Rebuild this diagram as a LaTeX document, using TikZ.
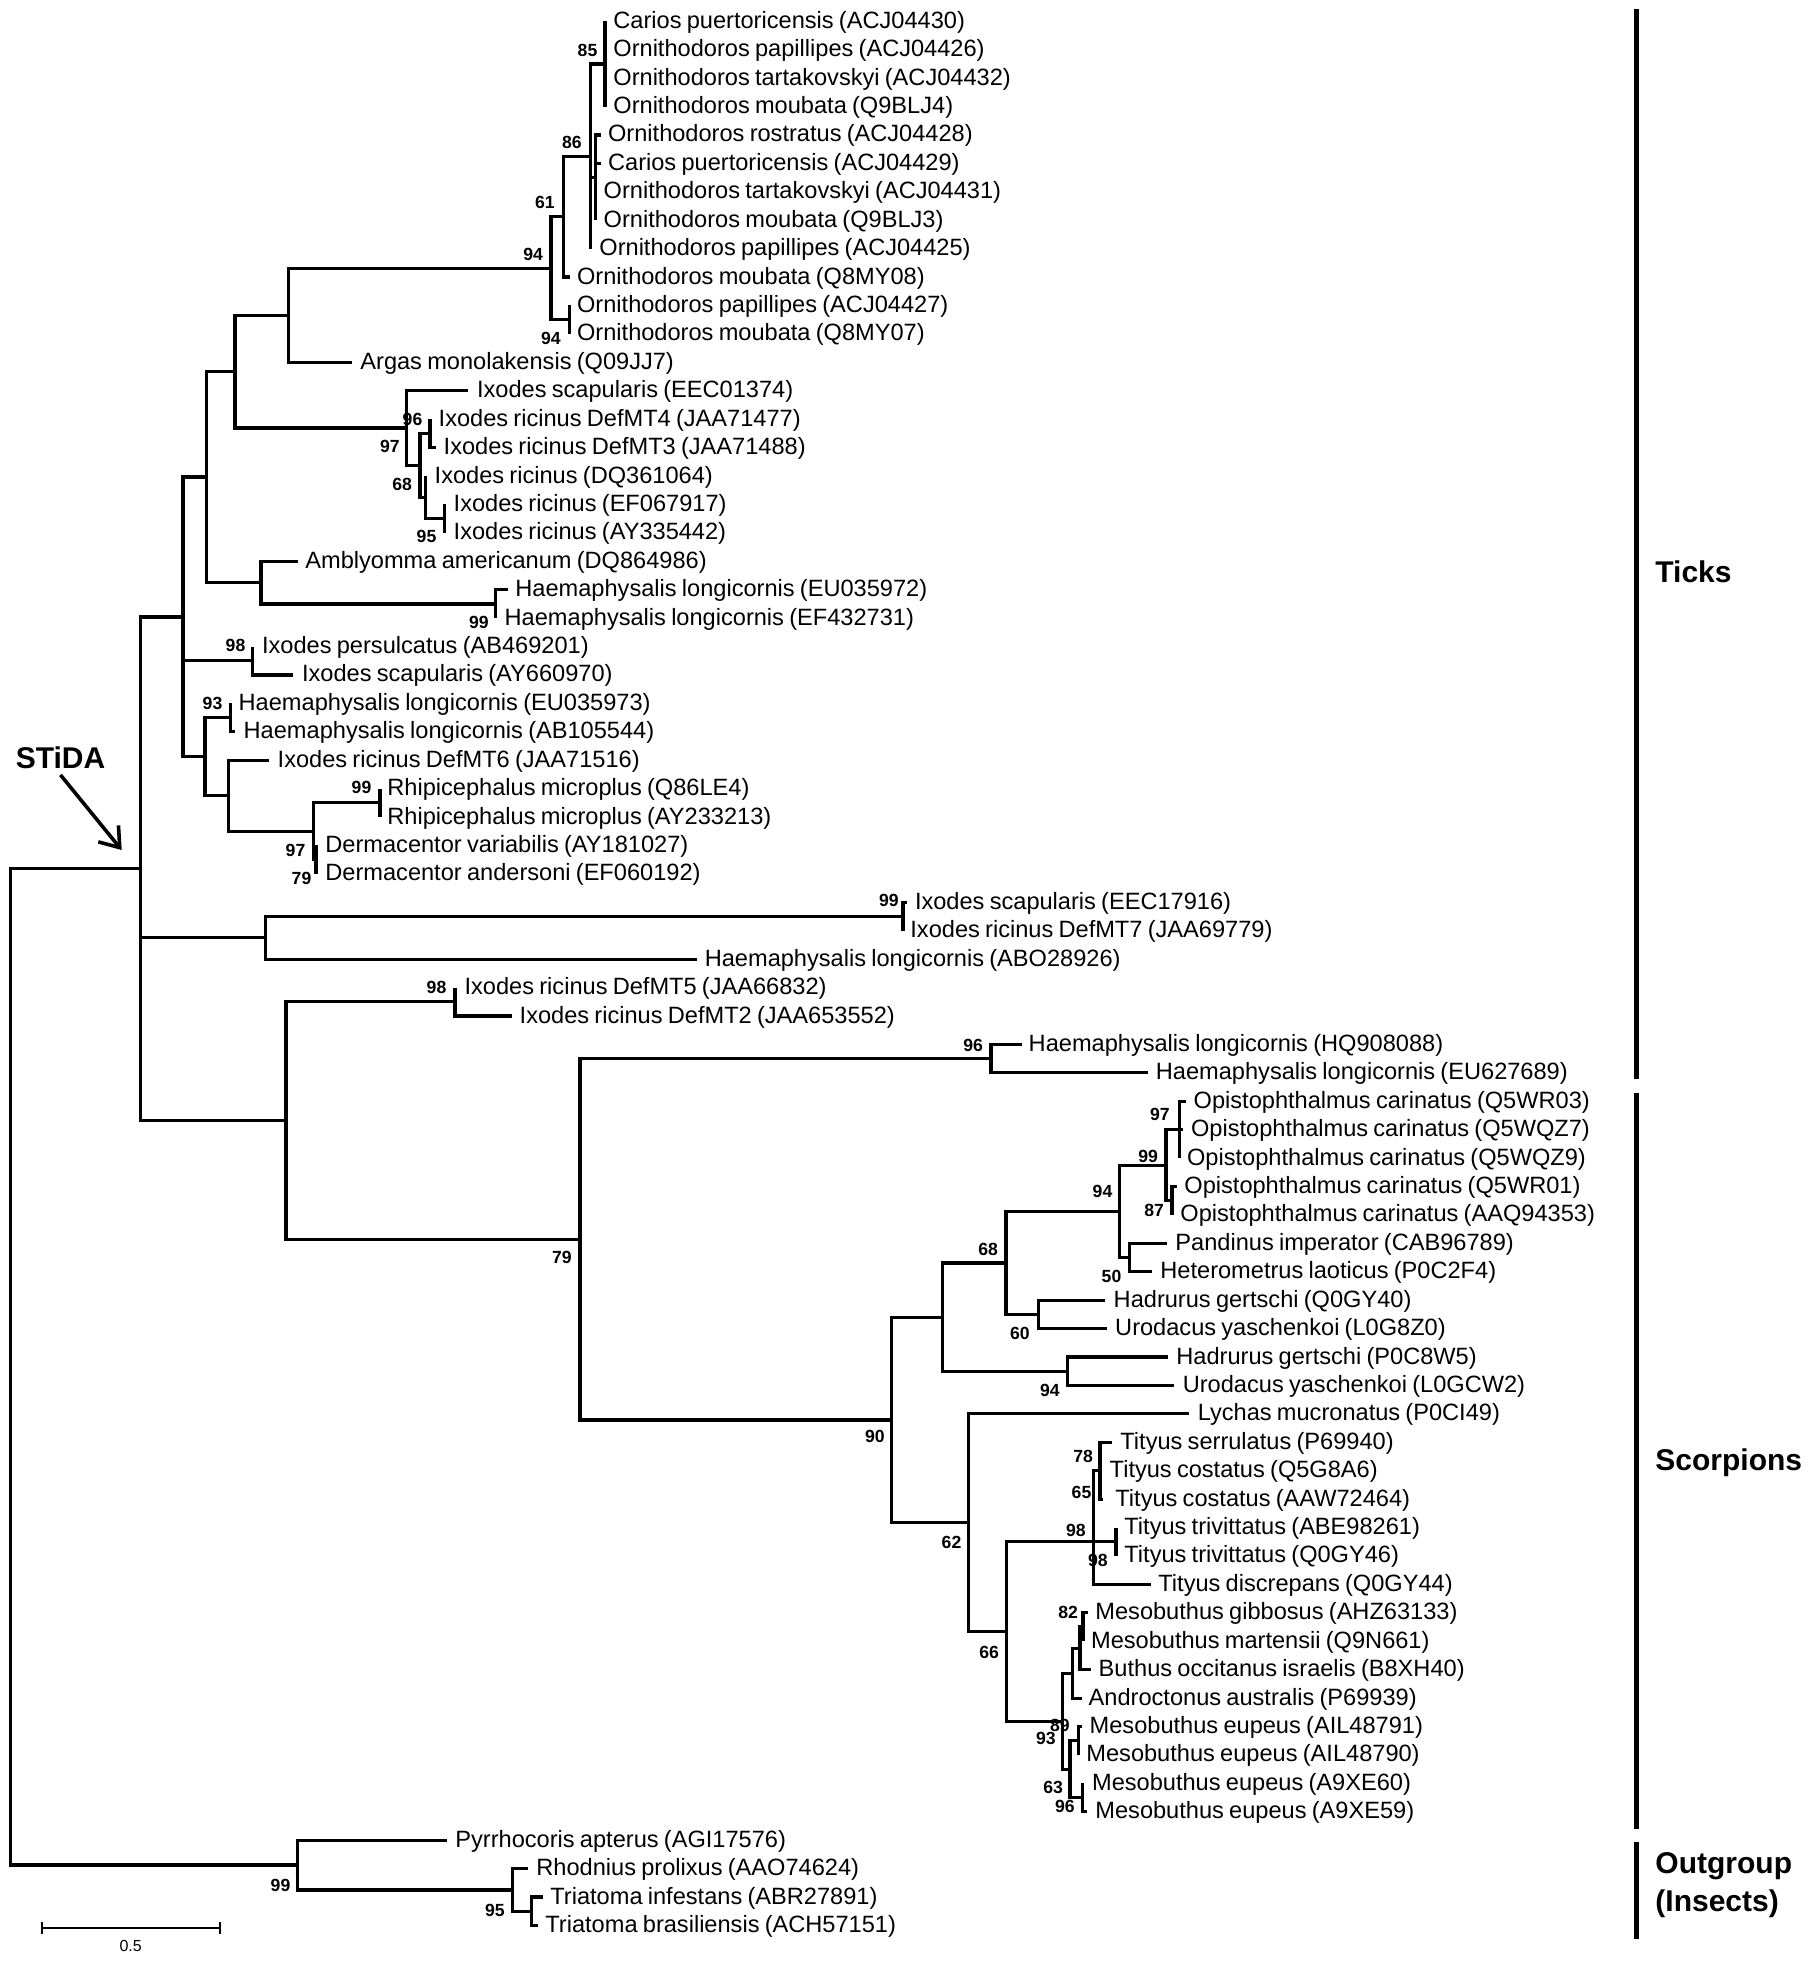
\documentclass[tikz,border=0pt]{standalone}
\usepackage{fontspec}
\setmainfont{Liberation Sans}[WordSpace=0.8]
\usetikzlibrary{arrows.meta}
\newcommand\leafat[4]{\coordinate (l#1) at (#2,{21.3+28.42*(#1-1)});
  \node[taxon] (t#1) at (#3,{28.3+28.42*(#1-1)}) {#4};}

\begin{document}
\begin{tikzpicture}[x = .5pt, y = -.5pt,
  branch/.style = {line width = 1.6pt},
  taxon/.style = {anchor = base west, inner sep = 0pt, font = \fontsize{11.8}{13}\selectfont},
  boot/.style = {anchor = east, inner sep = 0pt, font = \bfseries\fontsize{8.8}{10}\selectfont},
  group/.style = {inner sep = 0pt, align = left, font = \bfseries\fontsize{15}{19}\selectfont},
  bar/.style = {line width = 2.5pt}]
\path[fill = white, use as bounding box] (0,0) rectangle (1813,1962);

\leafat{1}{605}{613}{Carios puertoricensis (ACJ04430)}
\leafat{2}{605}{613}{Ornithodoros papillipes (ACJ04426)}
\leafat{3}{605}{613}{Ornithodoros tartakovskyi (ACJ04432)}
\leafat{4}{605}{613}{Ornithodoros moubata (Q9BLJ4)}
\leafat{5}{601}{607.7}{Ornithodoros rostratus (ACJ04428)}
\leafat{6}{601}{607.7}{Carios puertoricensis (ACJ04429)}
\leafat{7}{595.7}{603.3}{Ornithodoros tartakovskyi (ACJ04431)}
\leafat{8}{595.7}{603.3}{Ornithodoros moubata (Q9BLJ3)}
\leafat{9}{590.7}{599}{Ornithodoros papillipes (ACJ04425)}
\leafat{10}{570}{576.7}{Ornithodoros moubata (Q8MY08)}
\leafat{11}{569.3}{576.7}{Ornithodoros papillipes (ACJ04427)}
\leafat{12}{569.3}{576.7}{Ornithodoros moubata (Q8MY07)}
\leafat{13}{351.7}{360}{Argas monolakensis (Q09JJ7)}
\leafat{14}{468.3}{476.7}{Ixodes scapularis (EEC01374)}
\leafat{15}{430}{438.3}{Ixodes ricinus DefMT4 (JAA71477)}
\leafat{16}{435.7}{443.3}{Ixodes ricinus DefMT3 (JAA71488)}
\leafat{17}{425.7}{434.3}{Ixodes ricinus (DQ361064)}
\leafat{18}{444.3}{453.3}{Ixodes ricinus (EF067917)}
\leafat{19}{444.3}{453.3}{Ixodes ricinus (AY335442)}
\leafat{20}{298.3}{305}{Amblyomma americanum (DQ864986)}
\leafat{21}{508.3}{515}{Haemaphysalis longicornis (EU035972)}
\leafat{22}{495.7}{504.3}{Haemaphysalis longicornis (EF432731)}
\leafat{23}{252.7}{261.7}{Ixodes persulcatus (AB469201)}
\leafat{24}{293.3}{301.7}{Ixodes scapularis (AY660970)}
\leafat{25}{230.5}{238.3}{Haemaphysalis longicornis (EU035973)}
\leafat{26}{235}{243.3}{Haemaphysalis longicornis (AB105544)}
\leafat{27}{269.3}{277.3}{Ixodes ricinus DefMT6 (JAA71516)}
\leafat{28}{380}{387}{Rhipicephalus microplus (Q86LE4)}
\leafat{29}{380}{387}{Rhipicephalus microplus (AY233213)}
\leafat{30}{316}{325}{Dermacentor variabilis (AY181027)}
\leafat{31}{316}{325}{Dermacentor andersoni (EF060192)}
\leafat{32}{907}{914.6}{Ixodes scapularis (EEC17916)}
\leafat{33}{903}{910}{Ixodes ricinus DefMT7 (JAA69779)}
\leafat{34}{697}{704.4}{Haemaphysalis longicornis (ABO28926)}
\leafat{35}{455}{464.2}{Ixodes ricinus DefMT5 (JAA66832)}
\leafat{36}{511.7}{519.3}{Ixodes ricinus DefMT2 (JAA653552)}
\leafat{37}{1021.7}{1028.3}{Haemaphysalis longicornis (HQ908088)}
\leafat{38}{1148.3}{1155.5}{Haemaphysalis longicornis (EU627689)}
\leafat{39}{1186}{1193.3}{Opistophthalmus carinatus (Q5WR03)}
\leafat{40}{1183}{1190.7}{Opistophthalmus carinatus (Q5WQZ7)}
\leafat{41}{1179.3}{1186.7}{Opistophthalmus carinatus (Q5WQZ9)}
\leafat{42}{1176.7}{1184}{Opistophthalmus carinatus (Q5WR01)}
\leafat{43}{1172}{1180}{Opistophthalmus carinatus (AAQ94353)}
\leafat{44}{1167.3}{1175}{Pandinus imperator (CAB96789)}
\leafat{45}{1152}{1160}{Heterometrus laoticus (P0C2F4)}
\leafat{46}{1105}{1113.3}{Hadrurus gertschi (Q0GY40)}
\leafat{47}{1107}{1114.8}{Urodacus yaschenkoi (L0G8Z0)}
\leafat{48}{1168}{1176}{Hadrurus gertschi (P0C8W5)}
\leafat{49}{1174}{1182.4}{Urodacus yaschenkoi (L0GCW2)}
\leafat{50}{1189}{1197.4}{Lychas mucronatus (P0CI49)}
\leafat{51}{1111.7}{1120}{Tityus serrulatus (P69940)}
\leafat{52}{1100}{1109.3}{Tityus costatus (Q5G8A6)}
\leafat{53}{1103.3}{1115}{Tityus costatus (AAW72464)}
\leafat{54}{1116}{1124}{Tityus trivittatus (ABE98261)}
\leafat{55}{1116}{1124}{Tityus trivittatus (Q0GY46)}
\leafat{56}{1150.7}{1158}{Tityus discrepans (Q0GY44)}
\leafat{57}{1088.3}{1095}{Mesobuthus gibbosus (AHZ63133)}
\leafat{58}{1083}{1090.7}{Mesobuthus martensii (Q9N661)}
\leafat{59}{1090.7}{1098.3}{Buthus occitanus israelis (B8XH40)}
\leafat{60}{1081.7}{1088.3}{Androctonus australis (P69939)}
\leafat{61}{1081.7}{1089.3}{Mesobuthus eupeus (AIL48791)}
\leafat{62}{1078.3}{1086}{Mesobuthus eupeus (AIL48790)}
\leafat{63}{1082.7}{1091.7}{Mesobuthus eupeus (A9XE60)}
\leafat{64}{1086.7}{1095}{Mesobuthus eupeus (A9XE59)}
\leafat{65}{446.7}{455}{Pyrrhocoris apterus (AGI17576)}
\leafat{66}{528.3}{536}{Rhodnius prolixus (AAO74624)}
\leafat{67}{543.3}{550}{Triatoma infestans (ABR27891)}
\leafat{68}{538.3}{545}{Triatoma brasiliensis (ACH57151)}

\coordinate (n85) at (605,64);
\coordinate (nO5) at (595.7,177.6);
\coordinate (n86) at (590.7,156.3);
\coordinate (n61) at (563.3,216.7);
\coordinate (n94b) at (569.3,319.7);
\coordinate (n94) at (551,268.2);
\coordinate (nArg) at (288.3,315.3);
\coordinate (n96) at (430,433.4);
\coordinate (n95) at (444.3,518.6);
\coordinate (n17s) at (425.7,497.3);
\coordinate (n68) at (420,465.35);
\coordinate (n97i) at (406.7,428.1);
\coordinate (n235) at (235,371.7);
\coordinate (n99h) at (495.7,603.9);
\coordinate (nAmb) at (261,582.6);
\coordinate (n207) at (206.7,477.1);
\coordinate (n98p) at (252.7,660.7);
\coordinate (n93) at (230.5,717.5);
\coordinate (nRh) at (380,802.8);
\coordinate (nDe) at (316,859.7);
\coordinate (n313) at (313.3,831.3);
\coordinate (n228) at (228.3,795.7);
\coordinate (n205) at (205,756.6);
\coordinate (n183) at (183,616.9);
\coordinate (nD7) at (903,916.5);
\coordinate (n265) at (265.7,937.8);
\coordinate (n98d) at (455,1001.8);
\coordinate (nHQ) at (991,1058.6);
\coordinate (n97o) at (1179.3,1129.7);
\coordinate (n87) at (1172,1200.7);
\coordinate (n99o) at (1166,1165.2);
\coordinate (n50) at (1129.3,1257.6);
\coordinate (n94o) at (1119.3,1211.4);
\coordinate (n60) at (1038.3,1314.4);
\coordinate (n68s) at (1006,1262.9);
\coordinate (n94h) at (1067.3,1371.25);
\coordinate (n943) at (942.7,1317.1);
\coordinate (n78) at (1100,1470.7);
\coordinate (n98s) at (1116,1541.8);
\coordinate (n98T) at (1093.3,1541.8);
\coordinate (n82) at (1083,1627.05);
\coordinate (nX) at (1080,1648.4);
\coordinate (nUp) at (1072.7,1673.25);
\coordinate (n89) at (1078.3,1740.7);
\coordinate (n96m) at (1082.7,1797.5);
\coordinate (n63) at (1070,1769.1);
\coordinate (n93m) at (1062.7,1721.2);
\coordinate (n66) at (1006.7,1631.5);
\coordinate (n62) at (968.3,1522.7);
\coordinate (n90) at (891.7,1419.9);
\coordinate (n79) at (580,1239.25);
\coordinate (n286) at (286,1120.5);
\coordinate (nSTiDA) at (140.5,868.7);
\coordinate (nTri) at (531.7,1911.2);
\coordinate (n95i) at (512.3,1889.9);
\coordinate (n99i) at (297.7,1865.05);
\coordinate (root) at (10.7,1366.9);

\draw[branch] (n85) |- (l1) (n85) |- (l2) (n85) |- (l3) (n85) |- (l4);
\draw[branch] (nO5) |- (l5) (nO5) |- (l6) (nO5) |- (l7) (nO5) |- (l8);
\draw[branch] (n86) |- (n85) (n86) |- (nO5) (n86) |- (l9);
\draw[branch] (n61) |- (n86) (n61) |- (l10);
\draw[branch] (n94b) |- (l11) (n94b) |- (l12);
\draw[branch] (n94) |- (n61) (n94) |- (n94b);
\draw[branch] (nArg) |- (n94) (nArg) |- (l13);
\draw[branch] (n96) |- (l15) (n96) |- (l16);
\draw[branch] (n95) |- (l18) (n95) |- (l19);
\draw[branch] (n17s) |- (l17) (n17s) |- (n95);
\draw[branch] (n68) |- (n96) (n68) |- (n17s);
\draw[branch] (n97i) |- (l14) (n97i) |- (n68);
\draw[branch] (n235) |- (nArg) (n235) |- (n97i);
\draw[branch] (n99h) |- (l21) (n99h) |- (l22);
\draw[branch] (nAmb) |- (l20) (nAmb) |- (n99h);
\draw[branch] (n207) |- (n235) (n207) |- (nAmb);
\draw[branch] (n98p) |- (l23) (n98p) |- (l24);
\draw[branch] (n93) |- (l25) (n93) |- (l26);
\draw[branch] (nRh) |- (l28) (nRh) |- (l29);
\draw[branch] (nDe) |- (l30) (nDe) |- (l31);
\draw[branch] (n313) |- (nRh) (n313) |- (nDe);
\draw[branch] (n228) |- (l27) (n228) |- (n313);
\draw[branch] (n205) |- (n93) (n205) |- (n228);
\draw[branch] (n183) |- (n207) (n183) |- (n98p) (n183) |- (n205);
\draw[branch] (nD7) |- (l32) (nD7) |- (l33);
\draw[branch] (n265) |- (nD7) (n265) |- (l34);
\draw[branch] (n98d) |- (l35) (n98d) |- (l36);
\draw[branch] (nHQ) |- (l37) (nHQ) |- (l38);
\draw[branch] (n97o) |- (l39) (n97o) |- (l40) (n97o) |- (l41);
\draw[branch] (n87) |- (l42) (n87) |- (l43);
\draw[branch] (n99o) |- (n97o) (n99o) |- (n87);
\draw[branch] (n50) |- (l44) (n50) |- (l45);
\draw[branch] (n94o) |- (n99o) (n94o) |- (n50);
\draw[branch] (n60) |- (l46) (n60) |- (l47);
\draw[branch] (n68s) |- (n94o) (n68s) |- (n60);
\draw[branch] (n94h) |- (l48) (n94h) |- (l49);
\draw[branch] (n943) |- (n68s) (n943) |- (n94h);
\draw[branch] (n78) |- (l51) (n78) |- (l52) (n78) |- (l53);
\draw[branch] (n98s) |- (l54) (n98s) |- (l55);
\draw[branch] (n98T) |- (n78) (n98T) |- (n98s) (n98T) |- (l56);
\draw[branch] (n82) |- (l57) (n82) |- (l58);
\draw[branch] (nX) |- (n82) (nX) |- (l59);
\draw[branch] (nUp) |- (nX) (nUp) |- (l60);
\draw[branch] (n89) |- (l61) (n89) |- (l62);
\draw[branch] (n96m) |- (l63) (n96m) |- (l64);
\draw[branch] (n63) |- (n89) (n63) |- (n96m);
\draw[branch] (n93m) |- (nUp) (n93m) |- (n63);
\draw[branch] (n66) |- (n98T) (n66) |- (n93m);
\draw[branch] (n62) |- (l50) (n62) |- (n66);
\draw[branch] (n90) |- (n943) (n90) |- (n62);
\draw[branch] (n79) |- (nHQ) (n79) |- (n90);
\draw[branch] (n286) |- (n98d) (n286) |- (n79);
\draw[branch] (nSTiDA) |- (n183) (nSTiDA) |- (n265) (nSTiDA) |- (n286);
\draw[branch] (nTri) |- (l67) (nTri) |- (l68);
\draw[branch] (n95i) |- (l66) (n95i) |- (nTri);
\draw[branch] (n99i) |- (l65) (n99i) |- (n95i);
\draw[branch] (root) |- (nSTiDA) (root) |- (n99i);

\node[boot] (b85) at (597.7,50) {85};
\node[boot] (b86) at (582,142.7) {86};
\node[boot] (b61) at (555,202.3) {61};
\node[boot] (b94a) at (543.3,254) {94};
\node[boot] (b94b) at (561,338.3) {94};
\node[boot] (b96a) at (422.7,419) {96};
\node[boot] (b97a) at (400,446.5) {97};
\node[boot] (b68a) at (412.3,484.3) {68};
\node[boot] (b95a) at (436.7,536.9) {95};
\node[boot] (b99a) at (489,622.2) {99};
\node[boot] (b98a) at (245.7,645.9) {98};
\node[boot] (b93a) at (222.7,703) {93};
\node[boot] (b99b) at (371.7,787.5) {99};
\node[boot] (b97b) at (305.7,850.7) {97};
\node[boot] (b79a) at (311.7,878.3) {79};
\node[boot] (b99c) at (899,900) {99};
\node[boot] (b98b) at (446.7,987.3) {98};
\node[boot] (b96b) at (983.3,1045) {96};
\node[boot] (b79b) at (572,1257.5) {79};
\node[boot] (b68b) at (998.3,1249.3) {68};
\node[boot] (b60) at (1030,1333.3) {60};
\node[boot] (b94c) at (1060,1390) {94};
\node[boot] (b90) at (885,1436.7) {90};
\node[boot] (b94d) at (1112.7,1191) {94};
\node[boot] (b99d) at (1158.3,1156) {99};
\node[boot] (b97c) at (1170,1114.3) {97};
\node[boot] (b87) at (1164.3,1210.7) {87};
\node[boot] (b50) at (1121.7,1276.7) {50};
\node[boot] (b62) at (961.7,1542.7) {62};
\node[boot] (b66) at (999.3,1652.7) {66};
\node[boot] (b98c) at (1086,1530.7) {98};
\node[boot] (b98d) at (1108,1560.7) {98};
\node[boot] (b78) at (1093.3,1456.7) {78};
\node[boot] (b65) at (1091.7,1492.7) {65};
\node[boot] (b82) at (1078.3,1612.7) {82};
\node[boot] (b93b) at (1056,1738.3) {93};
\node[boot] (b89) at (1070,1725) {89};
\node[boot] (b63) at (1063.3,1787.3) {63};
\node[boot] (b96c) at (1075,1806.7) {96};
\node[boot] (b99e) at (290.7,1885) {99};
\node[boot] (b95b) at (505,1910.7) {95};

\node[group] (stida) at (60.5,757.5) {STiDA};
\coordinate (stidaTip) at (121.7,850);
\draw[line width = 1.8pt, -{Straight Barb[length = 9pt, width = 13pt]}] ([yshift = -3pt]stida.south) -- (stidaTip);

\coordinate (ticksTop) at (1636,9);
\coordinate (ticksBot) at (1636,1079);
\coordinate (scorpTop) at (1636,1093);
\coordinate (scorpBot) at (1636,1829);
\coordinate (outTop) at (1636,1842);
\coordinate (outBot) at (1636,1939);
\draw[bar] (ticksTop) -- (ticksBot);
\draw[bar] (scorpTop) -- (scorpBot);
\draw[bar] (outTop) -- (outBot);
\node[group, anchor = west] (ticks) at (1655,572) {Ticks};
\node[group, anchor = west] (scorp) at (1655,1463) {Scorpions};
\node[group, anchor = west] (outgrp) at (1655,1885) {Outgroup\\(Insects)};

\coordinate (sbL) at (41.7,1928.3);
\coordinate (sbR) at (220,1928.3);
\draw[line width = 1pt] (sbL) -- (sbR) ([yshift = 3pt]sbL) -- ([yshift = -3pt]sbL) ([yshift = 3pt]sbR) -- ([yshift = -3pt]sbR);
\node[font = \fontsize{8}{10}\selectfont, inner sep = 0pt] (sbtxt) at (130.7,1945.7) {0.5};
\end{tikzpicture}
\end{document}
